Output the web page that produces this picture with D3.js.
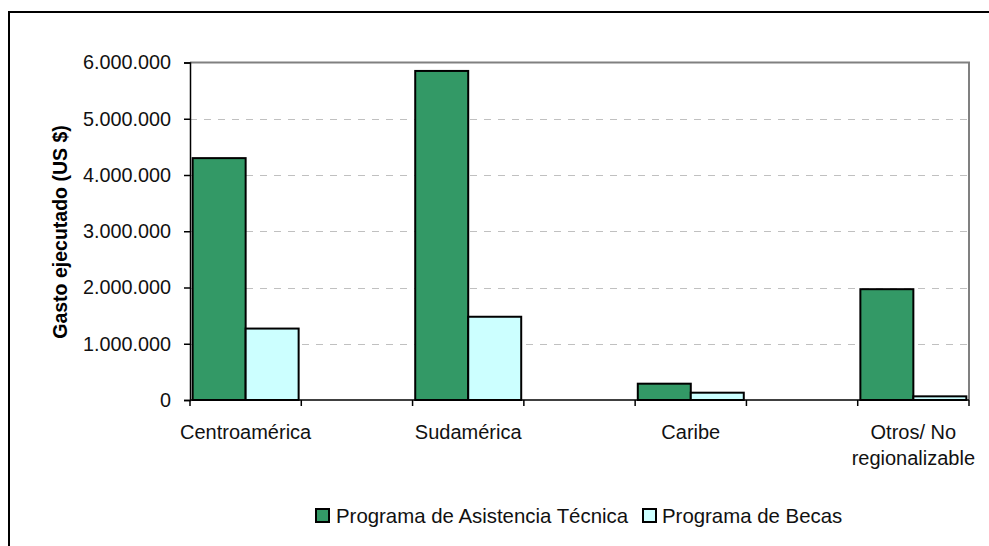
<!DOCTYPE html>
<html>
<head>
<meta charset="utf-8">
<script src="https://cdn.jsdelivr.net/npm/d3@7"></script>
<style>
  body { margin: 0; background: #fff; }
  svg { display: block; font-family: "Liberation Sans", Arial, sans-serif; }
</style>
</head>
<body>
<svg id="chart" width="989" height="546"></svg>
<script>
const categories = ["Centroamérica", "", "Sudamérica", "", "Caribe", "", "Otros/ No regionalizable"];
const seriesNames = ["Programa de Asistencia Técnica", "Programa de Becas"];
const asistenciaTecnica = [4300000, null, 5850000, null, 290000, null, 1970000];
const becas = [1270000, null, 1480000, null, 130000, null, 65000];
const yTicks = [0, 1000000, 2000000, 3000000, 4000000, 5000000, 6000000];
const colors = ["#339966", "#CCFFFF"];
const yTitle = "Gasto ejecutado (US $)";

const svg = d3.select("#chart");
const W = 989, H = 546;
const plot = { left: 190, right: 969, top: 62.5, bottom: 400 };

// outer border
svg.append("rect").attr("x", 9).attr("y", 12).attr("width", W + 20).attr("height", H + 20)
  .attr("fill", "none").attr("stroke", "#000").attr("stroke-width", 2);

const x = d3.scaleBand().domain(d3.range(categories.length)).range([plot.left, plot.right]).paddingInner(0).paddingOuter(0);
const y = d3.scaleLinear().domain([0, 6000000]).range([plot.bottom, plot.top]);
const fmt = v => d3.format(",")(v).replace(/,/g, ".");

// gridlines
svg.append("g").selectAll("line").data(yTicks.filter(t => t > 0 && t < 6000000)).join("line")
  .attr("x1", plot.left).attr("x2", plot.right)
  .attr("y1", d => Math.round(y(d)) + 0.5).attr("y2", d => Math.round(y(d)) + 0.5)
  .attr("stroke", "#c0c0c0").attr("stroke-width", 1).attr("stroke-dasharray", "7,7");

// plot area border (top and right gray)
svg.append("path")
  .attr("d", `M${plot.left},${plot.top}H${plot.right}V${plot.bottom}`)
  .attr("fill", "none").attr("stroke", "#808080").attr("stroke-width", 2);

// bars
const inner = d3.scaleBand().domain([0, 1]).range([0, x.bandwidth()]).paddingOuter(0.05).paddingInner(0);
const seriesData = [asistenciaTecnica, becas];
seriesData.forEach((arr, si) => {
  svg.append("g").selectAll("rect")
    .data(arr.map((v, i) => ({ v, i })).filter(d => d.v != null))
    .join("rect")
    .attr("x", d => x(d.i) + inner(si))
    .attr("y", d => y(d.v))
    .attr("width", inner.bandwidth())
    .attr("height", d => y(0) - y(d.v))
    .attr("fill", colors[si]).attr("stroke", "#000").attr("stroke-width", 2);
});

// y axis
const yAxis = d3.axisLeft(y).tickValues(yTicks).tickFormat(fmt).tickSize(6).tickPadding(13);
const gy = svg.append("g").attr("transform", `translate(${plot.left},0)`).call(yAxis);
gy.select(".domain").attr("stroke", "#000").attr("stroke-width", 1.5);
gy.selectAll(".tick line").attr("stroke", "#000").attr("stroke-width", 1.5);
gy.selectAll(".tick text").attr("font-size", 19.8).attr("fill", "#111")
  .attr("font-family", "'Liberation Sans', Arial, sans-serif");

// x axis
const gx = svg.append("g").attr("transform", `translate(0,${plot.bottom})`);
gx.append("line").attr("x1", plot.left).attr("x2", plot.right).attr("y1", 0).attr("y2", 0)
  .attr("stroke", "#000").attr("stroke-width", 1.5);
const boundaries = d3.range(categories.length + 1).map(i => i < categories.length ? x(i) : plot.right);
gx.selectAll("line.tk").data(boundaries).join("line").attr("class", "tk")
  .attr("x1", d => d).attr("x2", d => d).attr("y1", 0).attr("y2", 6)
  .attr("stroke", "#000").attr("stroke-width", 1.5);

// category labels
categories.forEach((c, i) => {
  if (!c) return;
  const cx = x(i) + x.bandwidth() / 2;
  let lines = [c];
  if (c.length > 16) { const k = c.indexOf(" No "); lines = [c.slice(0, k + 3), c.slice(k + 4)]; }
  const t = svg.append("text").attr("x", cx).attr("y", 438.5).attr("text-anchor", "middle")
    .attr("font-size", 20).attr("fill", "#111");
  lines.forEach((l, j) => t.append("tspan").attr("x", cx).attr("dy", j === 0 ? 0 : 26).text(l));
});

// y title
svg.append("text").attr("transform", `translate(67,232) rotate(-90)`)
  .attr("text-anchor", "middle").attr("font-size", 19.5).attr("font-weight", "bold").attr("fill", "#000")
  .text(yTitle);

// legend
const lg = svg.append("g");
const legendItems = [
  { sx: 316, tx: 336, name: seriesNames[0], c: colors[0] },
  { sx: 643, tx: 662, name: seriesNames[1], c: colors[1] }
];
legendItems.forEach(it => {
  lg.append("rect").attr("x", it.sx).attr("y", 509).attr("width", 13).attr("height", 13)
    .attr("fill", it.c).attr("stroke", "#000").attr("stroke-width", 2);
  lg.append("text").attr("x", it.tx).attr("y", 523).attr("font-size", 20.4).attr("fill", "#111").text(it.name);
});
</script>
</body>
</html>
